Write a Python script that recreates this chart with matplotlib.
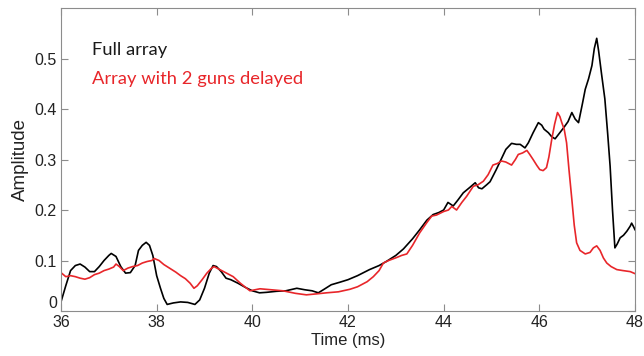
import matplotlib
matplotlib.use('Agg')
import matplotlib.pyplot as plt

# full array (black)
full_t = [36.0, 36.1, 36.2, 36.3, 36.4, 36.5, 36.6, 36.7, 36.8, 36.9, 37.0, 37.05, 37.15,
          37.25, 37.35, 37.45, 37.55, 37.62, 37.7, 37.78, 37.85, 37.92, 38.0, 38.08, 38.15,
          38.22, 38.35, 38.5, 38.65, 38.8, 38.9, 39.0, 39.1, 39.18, 39.25, 39.35, 39.45,
          39.55, 39.7, 39.85, 40.0, 40.15, 40.3, 40.5, 40.7, 40.93, 41.1, 41.25, 41.38,
          41.5, 41.65, 41.83, 42.0, 42.2, 42.45, 42.65, 42.8, 43.0, 43.16, 43.35, 43.5,
          43.65, 43.78, 43.9, 44.0, 44.09, 44.2, 44.3, 44.41, 44.55, 44.66, 44.73, 44.8,
          44.9, 44.97, 45.1, 45.22, 45.3, 45.42, 45.52, 45.6, 45.7, 45.77, 45.87, 45.98,
          46.05, 46.1, 46.19, 46.26, 46.33, 46.42, 46.51, 46.6, 46.68, 46.75, 46.82, 46.9,
          46.96, 47.03, 47.1, 47.15, 47.2, 47.24, 47.3, 47.37, 47.43, 47.48, 47.53, 47.58,
          47.63, 47.69, 47.76, 47.83, 47.9, 47.93, 47.97, 48.0]
full_amp = [0.018, 0.05, 0.08, 0.09, 0.093, 0.087, 0.078, 0.078, 0.088, 0.1, 0.11, 0.114, 0.108,
            0.088, 0.075, 0.076, 0.09, 0.12, 0.13, 0.136, 0.13, 0.11, 0.07, 0.045, 0.025,
            0.013, 0.016, 0.018, 0.017, 0.013, 0.022, 0.045, 0.075, 0.09, 0.088, 0.078, 0.065,
            0.062, 0.055, 0.047, 0.04, 0.036, 0.037, 0.039, 0.04, 0.045, 0.042, 0.04, 0.036,
            0.043, 0.052, 0.057, 0.062, 0.07, 0.082, 0.09, 0.098, 0.11, 0.123, 0.143, 0.161,
            0.18, 0.191, 0.195, 0.2, 0.215, 0.208, 0.22, 0.234, 0.245, 0.254, 0.244, 0.242,
            0.25, 0.256, 0.28, 0.304, 0.32, 0.332, 0.33, 0.33, 0.323, 0.333, 0.353, 0.373,
            0.368, 0.36, 0.353, 0.345, 0.341, 0.352, 0.363, 0.375, 0.393, 0.38, 0.373, 0.41,
            0.439, 0.46, 0.486, 0.52, 0.54, 0.515, 0.47, 0.42, 0.35, 0.287, 0.2, 0.125,
            0.133, 0.145, 0.15, 0.158, 0.168, 0.174, 0.167, 0.161]

# array with 2 guns delayed (red)
delay_t = [36.0, 36.1, 36.2, 36.3, 36.4, 36.5, 36.6, 36.7, 36.8, 36.9, 37.0, 37.1, 37.15,
           37.22, 37.3, 37.4, 37.5, 37.6, 37.7, 37.8, 37.9, 37.95, 38.05, 38.15, 38.3, 38.4,
           38.5, 38.6, 38.7, 38.78, 38.85, 38.95, 39.05, 39.15, 39.2, 39.3, 39.46, 39.6,
           39.75, 39.95, 40.16, 40.4, 40.64, 40.9, 41.13, 41.35, 41.55, 41.8, 42.04, 42.2,
           42.4, 42.53, 42.65, 42.74, 42.85, 43.02, 43.12, 43.23, 43.35, 43.5, 43.64, 43.75,
           43.85, 44.0, 44.1, 44.17, 44.27, 44.38, 44.48, 44.62, 44.72, 44.83, 44.93, 45.03,
           45.12, 45.21, 45.3, 45.42, 45.5, 45.56, 45.65, 45.74, 45.8, 45.87, 45.95, 46.01,
           46.08, 46.15, 46.2, 46.26, 46.32, 46.38, 46.43, 46.47, 46.52, 46.57, 46.62, 46.68,
           46.73, 46.78, 46.85, 46.96, 47.06, 47.13, 47.2, 47.27, 47.34, 47.41, 47.5, 47.62,
           47.75, 47.9, 48.0]
delay_amp = [0.076, 0.068, 0.07, 0.068, 0.065, 0.063, 0.066, 0.072, 0.075, 0.08, 0.083, 0.087, 0.093,
             0.088, 0.08, 0.085, 0.088, 0.09, 0.095, 0.098, 0.1, 0.104, 0.1, 0.092, 0.083, 0.077,
             0.07, 0.064, 0.055, 0.045, 0.05, 0.062, 0.075, 0.085, 0.088, 0.083, 0.075, 0.068,
             0.055, 0.04, 0.044, 0.042, 0.04, 0.035, 0.032, 0.034, 0.036, 0.038, 0.043, 0.048,
             0.058, 0.068, 0.08, 0.095, 0.1, 0.106, 0.11, 0.113, 0.13, 0.155, 0.174, 0.188,
             0.19, 0.197, 0.2, 0.207, 0.2, 0.215, 0.227, 0.247, 0.25, 0.257, 0.27, 0.289,
             0.292, 0.297, 0.295, 0.289, 0.3, 0.31, 0.313, 0.318, 0.31, 0.3, 0.288, 0.28,
             0.278, 0.284, 0.305, 0.34, 0.37, 0.393, 0.385, 0.373, 0.36, 0.333, 0.28, 0.221,
             0.17, 0.135, 0.12, 0.113, 0.116, 0.125, 0.129, 0.12, 0.105, 0.095, 0.088, 0.082,
             0.08, 0.078, 0.074]

xticks = [36, 38, 40, 42, 44, 46, 48]
yticks = [0, 0.1, 0.2, 0.3, 0.4, 0.5]
ytick_labels = ['0', '0.1', '0.2', '0.3', '0.4', '0.5']

fig = plt.figure(figsize=(6.44, 3.56), dpi=100)
ax = fig.add_axes([0.0947, 0.1264, 0.8913, 0.8511])

ax.plot(full_t, full_amp, color='black', lw=1.2)
ax.plot(delay_t, delay_amp, color='#e8262a', lw=1.2)

ax.set_xlim(36, 48)
ax.set_ylim(0, 0.6)
ax.set_xticks(xticks)
ax.set_yticks(yticks)
ax.set_yticklabels(ytick_labels)

for s in ax.spines.values():
    s.set_color('#8c8c8c')
ax.tick_params(direction='in', top=True, right=True, length=5, color='#8c8c8c',
               labelsize=11.5, pad=3)
for lab in ax.get_xticklabels() + ax.get_yticklabels():
    lab.set_family('Liberation Sans')
    lab.set_color('#222222')
# the "0" sits a little above the corner, clear of the "36"
ax.get_yticklabels()[0].set_va('bottom')

ax.set_xlabel('Time (ms)', family='Liberation Sans', fontsize=12, color='#222222', labelpad=2)
ax.set_ylabel('Amplitude', family='Liberation Sans', fontsize=13.5, color='#222222', labelpad=4)

ax.text(0.054, 0.862, 'Full array', transform=ax.transAxes, family='Lato', fontsize=13.2,
        color='#1a1a1a', va='center', ha='left')
ax.text(0.054, 0.765, 'Array with 2 guns delayed', transform=ax.transAxes, family='Lato',
        fontsize=13.2, color='#e8262a', va='center', ha='left')

fig.savefig('out.png', dpi=100)
